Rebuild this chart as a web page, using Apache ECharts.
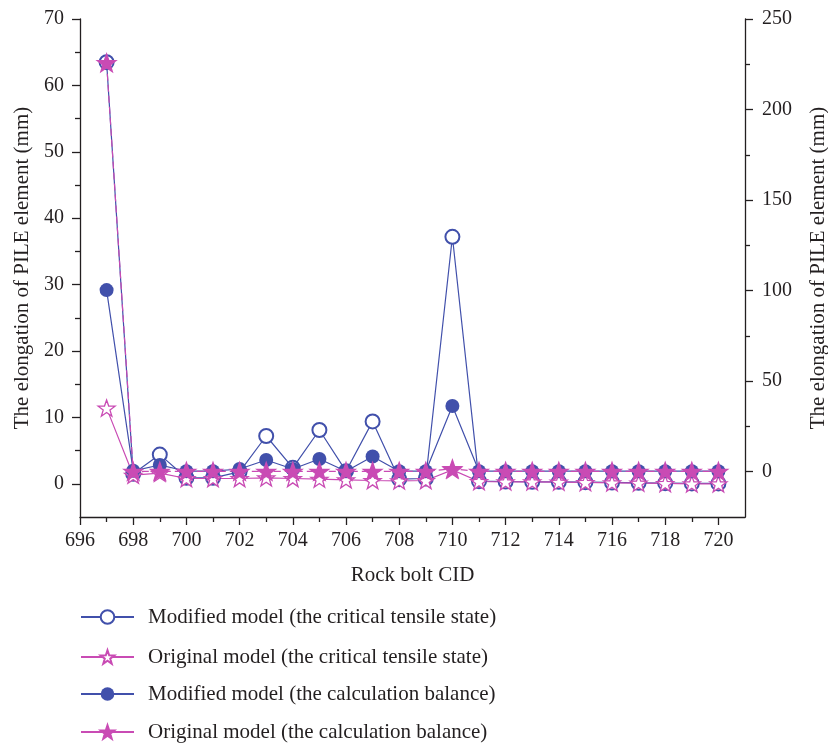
<!DOCTYPE html>
<html><head><meta charset="utf-8">
<script src="https://cdn.jsdelivr.net/npm/echarts@6/dist/echarts.min.js"></script>
<style>html,body{margin:0;padding:0;background:#fff}#c{width:828px;height:747px}</style>
</head><body><div id="c"></div>
<script>
const cid = [697,698,699,700,701,702,703,704,705,706,707,708,709,710,711,712,713,714,715,716,717,718,719,720];
// left axis (mm)
const modifiedCritical = [63.5,1.5,4.4,0.9,0.9,1.8,7.2,2.4,8.1,1.9,9.4,0.7,0.8,37.2,0.4,0.35,0.3,0.3,0.25,0.2,0.15,0.1,0.05,0.05];
const originalCritical = [11.4,1.3,1.6,0.8,0.8,0.8,0.9,0.8,0.7,0.6,0.5,0.45,0.5,2.1,0.35,0.3,0.3,0.25,0.2,0.15,0.1,0.05,0.0,0.0];
// right axis (mm)
const modifiedBalance = [100.3,0.5,3.7,0.3,0.3,1.5,6.5,1.5,7.0,0.3,8.4,0.3,0.3,36.3,0.3,0.3,0.3,0.3,0.3,0.3,0.3,0.3,0.3,0.3];
const originalBalance = [225.8,0.2,0.2,0.2,0.2,0.2,0.2,0.2,0.2,0.2,0.2,0.2,0.2,1.6,0.2,0.2,0.2,0.2,0.2,0.2,0.2,0.2,0.2,0.2];
const xLabels = [696,698,700,702,704,706,708,710,712,714,716,718,720];
const xMinor = [697,699,701,703,705,707,709,711,713,715,717,719];
const leftLabels = [0,10,20,30,40,50,60,70];
const leftMinor = [5,15,25,35,45,55,65];
const rightLabels = [0,50,100,150,200,250];
const rightMinor = [25,75,125,175,225];
const names = ['Modified model (the critical tensile state)','Original model (the critical tensile state)','Modified model (the calculation balance)','Original model (the calculation balance)'];

const BLUE = '#4150ab', PINK = '#c94bb4', INK = '#231f20';
const FONT = 'Liberation Serif';
const STAR = 'path://M0,-10 L2.35,-3.24 L9.51,-3.09 L3.8,1.24 L5.88,8.09 L0,4 L-5.88,8.09 L-3.8,1.24 L-9.51,-3.09 L-2.35,-3.24 Z';
const pair = a => cid.map((x,i)=>[x,a[i]]);

const axLine = {show:true, onZero:false, lineStyle:{color:INK, width:1.3}};
const lab = {color:INK, fontFamily:FONT, fontSize:20};
const nameStyle = {color:INK, fontFamily:FONT, fontSize:21};
const legendTops = [606,646,683,721];

const chart = echarts.init(document.getElementById('c'));
chart.setOption({
  animation:false,
  backgroundColor:'#fff',
  grid:{left:80, right:83, top:19, bottom:230, containLabel:false, outerBoundsMode:'none'},
  legend: names.map((n,i)=>({
    orient:'vertical', left:80, top:legendTops[i], padding:0, itemWidth:53, itemHeight:17, itemGap:0,
    textStyle:{color:INK, fontFamily:FONT, fontSize:21, lineHeight:22, padding:[0,0,0,9]},
    lineStyle:{type:'solid'},
    data:[n]
  })),
  xAxis:[
    {type:'value', min:696, max:721, interval:1, position:'bottom',
     axisLine:axLine, splitLine:{show:false},
     axisTick:{show:true, length:8, customValues:xLabels, lineStyle:{color:INK,width:1.3}},
     axisLabel:Object.assign({customValues:xLabels, margin:14}, lab),
     name:'Rock bolt CID', nameLocation:'middle', nameGap:48, nameTextStyle:nameStyle},
    {type:'value', min:696, max:721, interval:1, position:'bottom',
     axisLine:{show:false, onZero:false}, splitLine:{show:false},
     axisTick:{show:true, length:5, customValues:xMinor, lineStyle:{color:INK,width:1.3}},
     axisLabel:{show:false}}
  ],
  yAxis:[
    {type:'value', min:-5, max:70, interval:5, position:'left',
     axisLine:axLine, splitLine:{show:false},
     axisTick:{show:true, length:8, customValues:leftLabels, lineStyle:{color:INK,width:1.3}},
     axisLabel:Object.assign({customValues:leftLabels, margin:16}, lab),
     name:'The elongation of PILE element (mm)', nameLocation:'middle', nameRotate:90, nameGap:46, nameTextStyle:nameStyle},
    {type:'value', min:-25, max:250, interval:25, position:'right',
     axisLine:axLine, splitLine:{show:false},
     axisTick:{show:true, length:8, customValues:rightLabels, lineStyle:{color:INK,width:1.3}},
     axisLabel:Object.assign({customValues:rightLabels, margin:17}, lab),
     name:'The elongation of PILE element (mm)', nameLocation:'middle', nameRotate:90, nameGap:63, nameTextStyle:nameStyle},
    {type:'value', min:-5, max:70, interval:5, position:'left',
     axisLine:{show:false, onZero:false}, splitLine:{show:false},
     axisTick:{show:true, length:5, customValues:leftMinor, lineStyle:{color:INK,width:1.3}},
     axisLabel:{show:false}},
    {type:'value', min:-25, max:250, interval:25, position:'right',
     axisLine:{show:false, onZero:false}, splitLine:{show:false},
     axisTick:{show:true, length:5, customValues:rightMinor, lineStyle:{color:INK,width:1.3}},
     axisLabel:{show:false}}
  ],
  series:[
    {name:names[0], type:'line', xAxisIndex:0, yAxisIndex:0, data:pair(modifiedCritical),
     symbol:'emptyCircle', symbolSize:14,
     itemStyle:{color:BLUE, borderWidth:1.3}, lineStyle:{color:BLUE, width:1.2}},
    {name:names[1], type:'line', xAxisIndex:0, yAxisIndex:0, data:pair(originalCritical),
     symbol:STAR, symbolSize:17, symbolKeepAspect:true,
     itemStyle:{color:'#fff', borderColor:PINK, borderWidth:1.3}, lineStyle:{color:PINK, width:1.2}},
    {name:names[2], type:'line', xAxisIndex:0, yAxisIndex:1, data:pair(modifiedBalance),
     symbol:'circle', symbolSize:14,
     itemStyle:{color:BLUE}, lineStyle:{color:BLUE, width:1.2}},
    {name:names[3], type:'line', xAxisIndex:0, yAxisIndex:1, data:pair(originalBalance),
     symbol:STAR, symbolSize:18, symbolKeepAspect:true,
     itemStyle:{color:PINK, borderColor:PINK, borderWidth:1.5}, lineStyle:{color:PINK, width:1.2, type:[7,4]}}
  ]
});
</script></body></html>
